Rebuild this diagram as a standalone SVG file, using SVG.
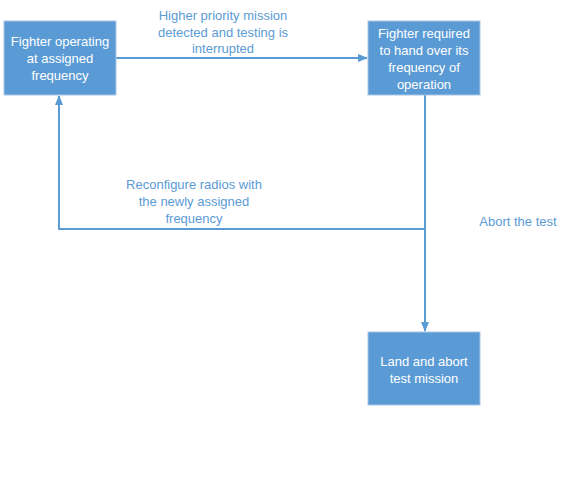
<svg xmlns="http://www.w3.org/2000/svg" width="568" height="497" viewBox="0 0 568 497">
<style>
.box{fill:#5b9bd5;stroke:#a9c6e6;stroke-width:1}
.bt{font-family:"Liberation Sans",Arial,sans-serif;font-size:13px;fill:#ffffff;text-anchor:middle}
.lt{font-family:"Liberation Sans",Arial,sans-serif;font-size:13px;fill:#5b9bd5;text-anchor:middle}
.conn{fill:none;stroke:#5b9bd5;stroke-width:2}
</style>
<defs>
<marker id="arr" markerWidth="10" markerHeight="10" refX="9" refY="5" orient="auto" markerUnits="userSpaceOnUse">
<path d="M0,1 L10,5 L0,9 Z" fill="#5b9bd5"/>
</marker>
</defs>
<rect width="568" height="497" fill="#ffffff"/>
<g id="connectors">
<path class="conn" d="M116,58 L367,58" marker-end="url(#arr)"/>
<path class="conn" d="M425,95 L425,331" marker-end="url(#arr)"/>
<path class="conn" d="M425,229 L59,229 L59,96" marker-end="url(#arr)"/>
</g>
<g id="n1">
<rect class="box" x="4" y="21" width="112" height="74"/>
<text class="bt" x="60" y="46">Fighter operating</text>
<text class="bt" x="60" y="63">at assigned</text>
<text class="bt" x="60" y="80">frequency</text>
</g>
<g id="n2">
<rect class="box" x="368" y="21" width="112" height="74"/>
<text class="bt" x="424" y="38">Fighter required</text>
<text class="bt" x="424" y="55">to hand over its</text>
<text class="bt" x="424" y="72">frequency of</text>
<text class="bt" x="424" y="89">operation</text>
</g>
<g id="n3">
<rect class="box" x="368" y="332" width="112" height="73"/>
<text class="bt" x="424" y="366">Land and abort</text>
<text class="bt" x="424" y="383">test mission</text>
</g>
<g id="labels">
<text class="lt" x="223" y="20">Higher priority mission</text>
<text class="lt" x="223" y="37">detected and testing is</text>
<text class="lt" x="223" y="53">interrupted</text>
<text class="lt" x="194" y="189">Reconfigure radios with</text>
<text class="lt" x="194" y="206">the newly assigned</text>
<text class="lt" x="194" y="223">frequency</text>
<text class="lt" x="518" y="226">Abort the test</text>
</g>
</svg>
